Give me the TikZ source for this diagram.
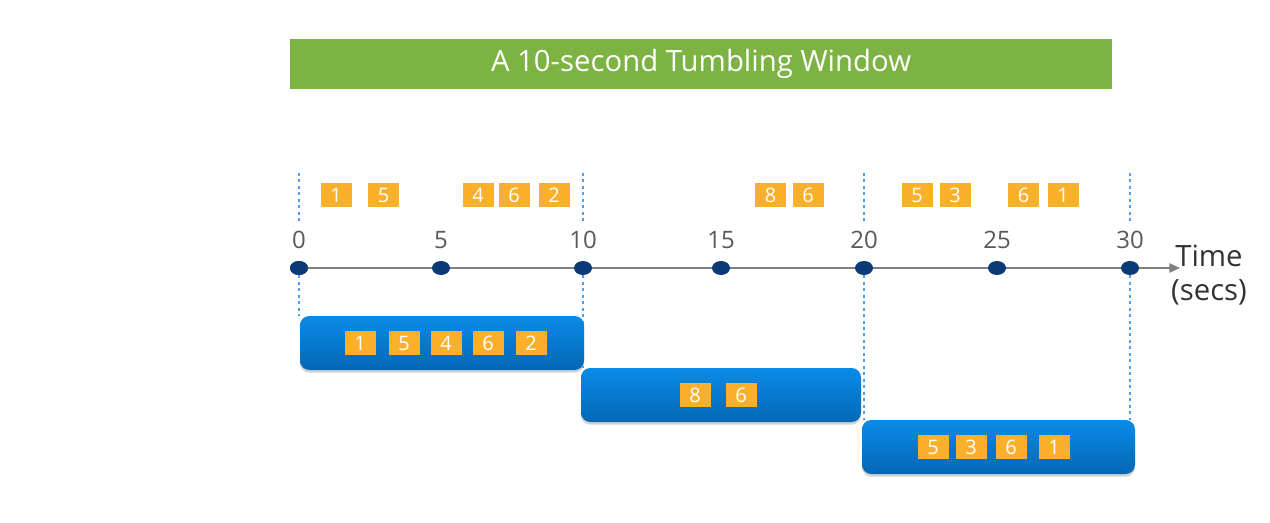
\documentclass[tikz,border=0pt]{standalone}
\usepackage{fontspec}
\setmainfont{Open Sans}
\usetikzlibrary{shadows,arrows.meta,shapes.geometric}
\pgfdeclarelayer{background}
\pgfsetlayers{background,main}
\definecolor{titlegreen}{HTML}{7DB343}
\definecolor{evorange}{HTML}{FBB02B}
\definecolor{dotnavy}{HTML}{0B3A77}
\definecolor{boxtop}{HTML}{0A8BE8}
\definecolor{boxbot}{HTML}{0467B5}
\definecolor{dashblue}{HTML}{4F9FF0}
\definecolor{labgray}{HTML}{595959}
\definecolor{axisgray}{HTML}{808080}
\tikzset{
  ev/.style={fill=evorange, text=white, minimum width=23.25pt, minimum height=18pt, inner sep=0pt, font=\fontsize{15}{15}\selectfont},
  tdot/.style={shape=ellipse, fill=dotnavy, minimum width=13.5pt, minimum height=10.5pt, inner sep=0pt},
  tlab/.style={text=labgray, font=\fontsize{18}{18}\selectfont, inner sep=0pt},
  winbox/.style={rounded corners=7pt, top color=boxtop, bottom color=boxbot, minimum height=40.5pt, inner sep=0pt,
    drop shadow={shadow xshift=0pt, shadow yshift=-2pt, opacity=0.35, fill=gray}},
  vdash/.style={dashblue, dash pattern=on 2.25pt off 2.6pt, line width=0.8pt},
}
\begin{document}
\begin{tikzpicture}[x=0.75pt,y=-0.75pt]
\useasboundingbox (0,0) rectangle (1270,522);
% title
\node[fill=titlegreen, minimum width=616.5pt, minimum height=37.5pt, inner sep=0pt, text=white,
  font=\fontsize{22}{22}\selectfont] (title) at (701,64) {A 10-second Tumbling Window};
% axis
\coordinate (axend) at (1180,268);
\node[tdot] (d0) at (299,268) {};
\draw[axisgray, line width=1.1pt, -{Triangle[length=8pt,width=7pt]}] (d0.center) -- (axend);
\foreach \x/\n/\l in {299/d0/0, 441/d5/5, 583/d10/10, 721/d15/15, 864/d20/20, 997/d25/25, 1130/d30/30}{
  \node[tdot] (\n) at (\x,268) {};
  \node[tlab] (l\n) at (\x,240) {\l};
}
\node[text=black!80, align=center, font=\fontsize{22}{26}\selectfont, inner sep=0pt] (time) at (1209,275) {Time\\(secs)};
% windows
\node[winbox, minimum width=213pt] (w1) at (442,343) {};
\node[winbox, minimum width=210pt] (w2) at (721,395) {};
\node[winbox, minimum width=204.75pt] (w3) at (998.5,447) {};
% dashed guides
\foreach \x/\n in {299/d0, 583/d10, 864/d20, 1130/d30}{
  \coordinate (top\n) at (\x,173);
  \coordinate (mid\n) at (\x,221);
}
\draw[vdash] (topd0) -- (midd0);
\draw[vdash] (topd10) -- (midd10);
\draw[vdash] (topd20) -- (midd20);
\draw[vdash] (topd30) -- (midd30);
\begin{pgfonlayer}{background}
\draw[vdash] (d0.south) -- (d0 |- w1.north);
\draw[vdash] (d10.south) -- (d10 |- w2.north);
\draw[vdash] (d20.south) -- (d20 |- w3.north);
\draw[vdash] (d30.south) -- (d30 |- w3.north);
\end{pgfonlayer}
% events on timeline
\foreach \x/\v/\n in {336/1/a1, 383.5/5/a2, 478/4/a3, 514/6/a4, 554/2/a5, 770.5/8/a6, 808/6/a7, 917/5/a8, 955/3/a9, 1023.5/6/a10, 1063/1/a11}{
  \node[ev] (\n) at (\x,195) {\v};
}
% events in windows
\foreach \x/\v/\n in {360/1/p1, 404/5/p2, 446/4/p3, 488/6/p4, 531/2/p5}{
  \node[ev] (\n) at (\x,343) {\v};
}
\foreach \x/\v/\n in {695/8/q1, 741/6/q2}{
  \node[ev] (\n) at (\x,395) {\v};
}
\foreach \x/\v/\n in {933/5/r1, 971/3/r2, 1011/6/r3, 1054/1/r4}{
  \node[ev] (\n) at (\x,447) {\v};
}
\end{tikzpicture}
\end{document}
